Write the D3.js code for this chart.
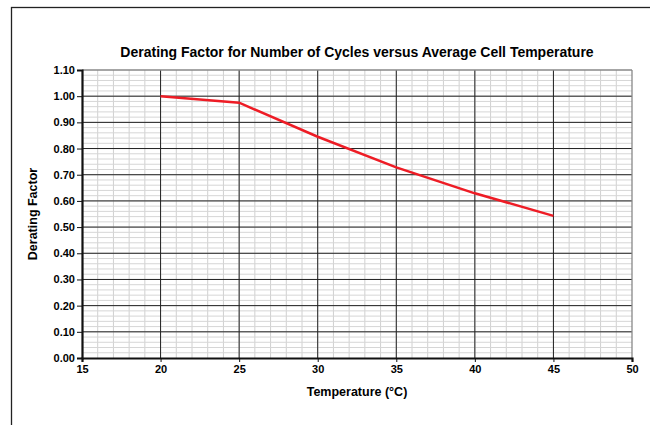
<!DOCTYPE html>
<html>
<head>
<meta charset="utf-8">
<script src="https://cdn.jsdelivr.net/npm/d3@7"></script>
<style>
  body { margin: 0; background: #fff; }
  text { font-family: "Liberation Sans", Arial, sans-serif; font-weight: bold; fill: #000; }
</style>
</head>
<body>
<div id="chart"></div>
<script>
// data
var temps = [20, 25, 30, 35, 40, 45];
var factors = [1.00, 0.975, 0.845, 0.728, 0.629, 0.543];
var xTicks = [15, 20, 25, 30, 35, 40, 45, 50];
var yTicks = [0, 0.1, 0.2, 0.3, 0.4, 0.5, 0.6, 0.7, 0.8, 0.9, 1.0, 1.1];

var w = 650, h = 425;
// plot box (note: "top" is reserved on window, so use p*)
var pLeft = 82, pRight = 632, pTop = 70, pBottom = 358;

var svg = d3.select("#chart").append("svg")
    .attr("width", w)
    .attr("height", h);

// outer frame (runs off the right and bottom)
svg.append("rect")
    .attr("x", 11.5).attr("y", 7.5)
    .attr("width", 700).attr("height", 500)
    .attr("fill", "none").attr("stroke", "#222").attr("stroke-width", 1.3);

var x = d3.scaleLinear().domain([15, 50]).range([pLeft, pRight]);
var y = d3.scaleLinear().domain([0, 1.1]).range([pBottom, pTop]);

// minor grid
var g = svg.append("g");
g.selectAll(".mx").data(d3.range(16, 50))
    .enter().append("line")
    .attr("x1", function(d) { return x(d); }).attr("x2", function(d) { return x(d); })
    .attr("y1", pTop).attr("y2", pBottom)
    .attr("stroke", "#d0d0d0").attr("stroke-width", 1);
g.selectAll(".my").data(d3.range(1, 55).map(function(i) { return i * 0.02; }))
    .enter().append("line")
    .attr("x1", pLeft).attr("x2", pRight)
    .attr("y1", function(d) { return y(d); }).attr("y2", function(d) { return y(d); })
    .attr("stroke", "#d6d6d6").attr("stroke-width", 1);

// major grid
g.selectAll(".Mx").data(xTicks.slice(1, -1))
    .enter().append("line")
    .attr("x1", function(d) { return x(d); }).attr("x2", function(d) { return x(d); })
    .attr("y1", pTop).attr("y2", pBottom)
    .attr("stroke", "#222").attr("stroke-width", 1);
g.selectAll(".My").data(yTicks.slice(1, -1))
    .enter().append("line")
    .attr("x1", pLeft).attr("x2", pRight)
    .attr("y1", function(d) { return y(d); }).attr("y2", function(d) { return y(d); })
    .attr("stroke", "#222").attr("stroke-width", 1);

// top / right border of plot
svg.append("line").attr("x1", pLeft).attr("x2", pRight).attr("y1", pTop).attr("y2", pTop)
    .attr("stroke", "#888").attr("stroke-width", 1.3);
svg.append("line").attr("x1", pRight).attr("x2", pRight).attr("y1", pTop).attr("y2", pBottom)
    .attr("stroke", "#888").attr("stroke-width", 1.3);

// axes
var xAxis = d3.axisBottom(x).tickValues(xTicks).tickSize(4).tickPadding(3)
    .tickFormat(d3.format("d"));
var yAxis = d3.axisLeft(y).tickValues(yTicks).tickSize(5).tickPadding(2)
    .tickFormat(d3.format(".2f"));

var xa = svg.append("g").attr("transform", "translate(0," + pBottom + ")").call(xAxis);
var ya = svg.append("g").attr("transform", "translate(" + pLeft + ",0)").call(yAxis);
[xa, ya].forEach(function(a) {
    a.select(".domain").attr("stroke", "#111").attr("stroke-width", 2.2);
    a.selectAll(".tick line").attr("stroke", "#111");
    a.selectAll("text").attr("font-size", "11px")
        .attr("font-family", "'Liberation Sans', Arial, sans-serif")
        .attr("font-weight", "bold").attr("fill", "#000");
});

// data line
var line = d3.line()
    .x(function(d, i) { return x(temps[i]); })
    .y(function(d) { return y(d); });
svg.append("path")
    .datum(factors)
    .attr("d", line)
    .attr("fill", "none")
    .attr("stroke", "#ee1c25")
    .attr("stroke-width", 2.5);

// titles
svg.append("text")
    .attr("x", (pLeft + pRight) / 2).attr("y", 57)
    .attr("text-anchor", "middle").attr("font-size", "14px")
    .text("Derating Factor for Number of Cycles versus Average Cell Temperature");
svg.append("text")
    .attr("x", (pLeft + pRight) / 2).attr("y", 396)
    .attr("text-anchor", "middle").attr("font-size", "12.5px")
    .text("Temperature (°C)");
svg.append("text")
    .attr("transform", "translate(37," + (pTop + pBottom) / 2 + ") rotate(-90)")
    .attr("text-anchor", "middle").attr("font-size", "12.5px")
    .text("Derating Factor");
</script>
</body>
</html>
